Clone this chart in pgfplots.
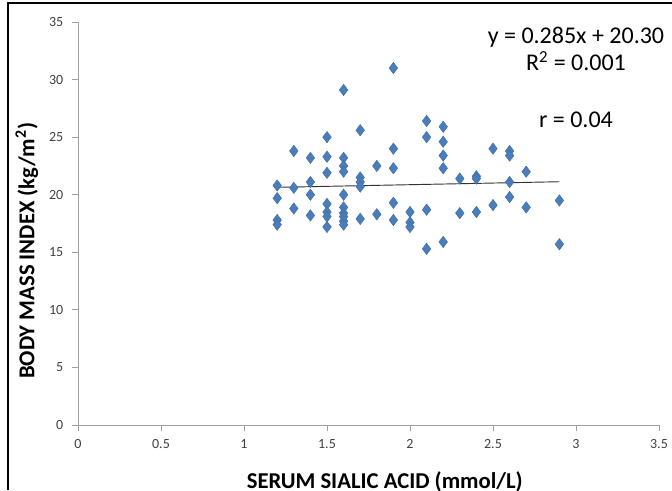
\documentclass[border=0pt]{standalone}
\usepackage{pgfplots}
\pgfplotsset{compat=1.18}
\usepackage{fontspec}
\setmainfont{Carlito}
\definecolor{markblue}{HTML}{4A7EBB}
\definecolor{axgray}{HTML}{A0A0A0}
\definecolor{ticktext}{HTML}{404040}

\pgfplotstableread{
x y
1.2 20.8
1.2 19.7
1.2 17.8
1.2 17.4
1.3 23.8
1.3 20.6
1.3 18.8
1.4 23.2
1.4 21.1
1.4 20.0
1.4 18.2
1.5 25.0
1.5 23.3
1.5 21.9
1.5 19.2
1.5 18.5
1.5 18.1
1.5 17.2
1.6 29.1
1.6 23.2
1.6 22.5
1.6 22.0
1.6 20.0
1.6 18.9
1.6 18.4
1.6 18.1
1.6 17.7
1.6 17.4
1.7 25.6
1.7 21.5
1.7 21.1
1.7 20.7
1.7 17.9
1.8 22.5
1.8 18.3
1.9 31.0
1.9 24.0
1.9 22.3
1.9 19.3
1.9 17.8
2.0 18.5
2.0 17.6
2.0 17.2
2.1 26.4
2.1 25.0
2.1 18.7
2.1 15.3
2.2 25.9
2.2 24.6
2.2 23.4
2.2 22.3
2.2 15.9
2.3 21.4
2.3 18.4
2.4 21.6
2.4 21.4
2.4 18.5
2.5 24.0
2.5 19.1
2.6 23.8
2.6 23.4
2.6 21.1
2.6 19.8
2.7 22.0
2.7 18.9
2.9 19.5
2.9 15.7
}\bmidata

\begin{document}
\begin{tikzpicture}
% page: 672 x 490 px, 0.75pt per px
\useasboundingbox (0pt,0pt) rectangle (504pt,367.5pt);
\begin{axis}[
  at={(58.5pt,48.75pt)}, anchor=origin,
  scale only axis,
  width=435.75pt, height=302.25pt,
  xmin=0, xmax=3.5, ymin=0, ymax=35,
  xtick={0,0.5,...,3.5},
  ytick={0,5,...,35},
  xticklabels={0,0.5,1,1.5,2,2.5,3,3.5},
  axis x line*=bottom, axis y line*=left,
  axis line style={axgray, line width=0.6pt, -},
  tick style={axgray, line width=0.6pt},
  tick align=outside, major tick length=4.5pt,
  tick label style={font=\fontsize{10.5}{12}\selectfont, text=ticktext},
  /pgf/number format/assume math mode=true,
  yticklabel style={xshift=-3pt},
  xticklabel style={yshift=-3pt},
  xlabel={\textbf{SERUM SIALIC ACID (mmol/L)}},
  ylabel={\textbf{BODY MASS INDEX (kg/m\textsuperscript{2})}},
  label style={font=\fontsize{17}{19}\selectfont},
  xlabel style={at={(axis description cs:0.528,-0.142)}, anchor=center},
  ylabel style={at={(axis description cs:-0.088,0.432)}, anchor=center},
  clip=false,
]
\addplot[only marks, mark=diamond*, mark size=4.3pt,
  mark options={fill=markblue, draw=markblue!85!black, line width=0.3pt}]
  table[x=x, y=y] {\bmidata};
\addplot[black!80, line width=0.7pt] coordinates {(1.2,20.642) (2.9,21.127)};
\node[font=\fontsize{18}{20}\selectfont, anchor=center]
  at (axis cs:3.0,33.7) {y = 0.285x + 20.30};
\node[font=\fontsize{18}{20}\selectfont, anchor=center]
  at (axis cs:3.0,31.6) {R\textsuperscript{2} = 0.001};
\node[font=\fontsize{18}{20}\selectfont, anchor=center]
  at (axis cs:3.0,26.5) {r = 0.04};
\end{axis}
\draw[black, line width=0.9pt] (6pt,0pt) -- (6pt,365.25pt) -- (504pt,365.25pt);
\end{tikzpicture}
\end{document}
